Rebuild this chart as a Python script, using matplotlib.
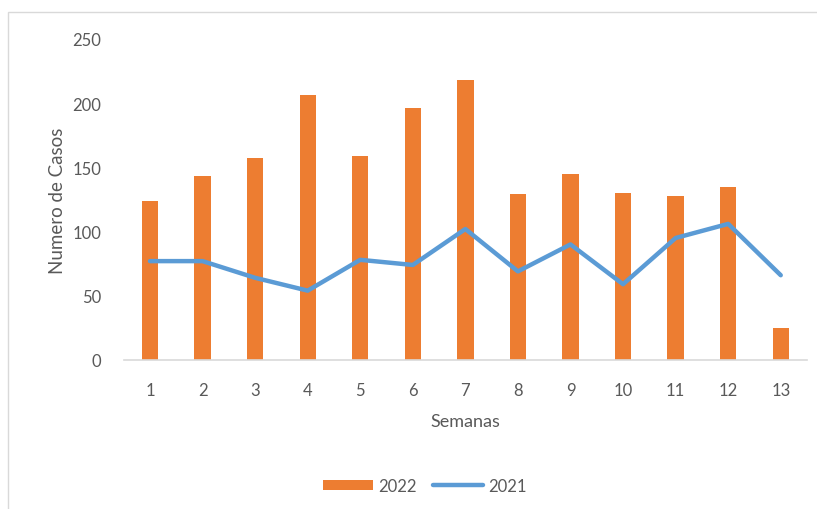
import matplotlib
matplotlib.use('Agg')
import matplotlib.pyplot as plt
import numpy as np
from matplotlib.patches import Rectangle

plt.rcParams['font.family'] = ['Lato', 'DejaVu Sans']

semanas = [str(i) for i in range(1, 14)]
casos_2022 = [124, 143, 157, 206, 159, 196, 218, 129, 145, 130, 128, 135, 25]
casos_2021 = [77, 77, 64, 54, 78, 74, 102, 69, 90, 59, 95, 106, 66]

fig = plt.figure(figsize=(8.17, 5.10), dpi=100)
# marco del grafico
fig.patches.append(Rectangle((0.010, -0.01), 1.0, 0.985, transform=fig.transFigure,
                             fill=False, edgecolor='#D9D9D9', linewidth=1))

ax = fig.add_axes([0.1514, 0.2922, 0.8364, 0.6294])
x = np.arange(len(semanas))
barras = ax.bar(x, casos_2022, width=0.31, color='#ED7D31', label='2022', zorder=2)
linea, = ax.plot(x, casos_2021, color='#5B9BD5', linewidth=3.2, label='2021', zorder=3,
                 solid_capstyle='round')

ax.set_xlim(-0.5, len(semanas) - 0.5)
ax.set_ylim(0, 250)
ax.set_yticks(range(0, 251, 50))
ax.set_xticks(x)
ax.set_xticklabels(semanas)
ax.tick_params(axis='both', length=0, labelsize=12, colors='#595959')
ax.tick_params(axis='x', pad=16)
ax.tick_params(axis='y', pad=16)
for s in ['top', 'right', 'left']:
    ax.spines[s].set_visible(False)
ax.spines['bottom'].set_color('#D9D9D9')
ax.spines['bottom'].set_linewidth(1.2)

ax.set_xlabel('Semanas', fontsize=13, color='#595959', labelpad=11)
ax.set_ylabel('Numero de Casos', fontsize=13.5, color='#595959', labelpad=5)

leg = fig.legend([barras, linea], ['2022', '2021'], loc='center',
                 bbox_to_anchor=(0.52, 0.045), ncol=2, frameon=False,
                 fontsize=12, handlelength=3.0, handleheight=0.6,
                 columnspacing=1.0, handletextpad=0.3)
for t in leg.get_texts():
    t.set_color('#595959')

fig.savefig('out.png', dpi=100, facecolor='white')
